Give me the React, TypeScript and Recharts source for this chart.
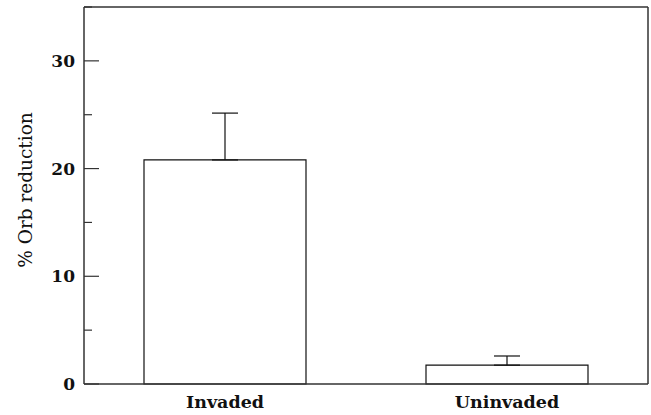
import React from 'react';
import { BarChart, Bar, XAxis, YAxis, ErrorBar } from 'recharts';

const categories = ['Invaded', 'Uninvaded'];
const means = [20.8, 1.75];
const upperErrors = [4.35, 0.85];
const yTicks = [0, 5, 10, 15, 20, 25, 30, 35];

const data = categories.map((name, i) => ({
  name,
  value: means[i],
  err: [0, upperErrors[i]],
}));

const FONT = '"DejaVu Serif", serif';
const AXIS = '#333';

const YTick = (props: any) => {
  const { y, payload } = props;
  const v = payload.value as number;
  const major = v % 10 === 0;
  return (
    <g>
      <line x1={84} x2={84 + (major ? 15 : 8)} y1={y} y2={y} stroke={AXIS} strokeWidth={1.2} />
      {major && v < 35 && (
        <text x={75} y={y} dy="0.36em" textAnchor="end" fontFamily={FONT} fontSize={17} fontWeight="bold" fill="#111">
          {v}
        </text>
      )}
    </g>
  );
};

export default function App() {
  return (
    <div style={{ position: 'absolute', left: 0, top: 0 }}>
      <BarChart width={651} height={415} data={data} margin={{ top: 6, right: 2, bottom: 0, left: 0 }} barSize={162}>
        <XAxis
          dataKey="name"
          height={31}
          tickLine={false}
          tickSize={0}
          tickMargin={12}
          axisLine={{ stroke: AXIS, strokeWidth: 1.5 }}
          tick={{ fontFamily: FONT, fontSize: 17.5, fontWeight: 'bold', fill: '#111' }}
        />
        <XAxis xAxisId="top" dataKey="name" orientation="top" height={1} tick={false} tickLine={false} axisLine={{ stroke: AXIS, strokeWidth: 1.5 }} />
        <YAxis
          width={84}
          domain={[0, 35]}
          ticks={yTicks}
          interval={0}
          tickLine={false}
          axisLine={{ stroke: AXIS, strokeWidth: 1.5 }}
          tick={<YTick />}
          label={{
            content: () => (
              <text transform="rotate(-90, 32, 190)" x={32} y={190} textAnchor="middle" fontFamily={FONT} fontSize={18.5} fill="#111">
                % Orb reduction
              </text>
            ),
          }}
        />
        <YAxis yAxisId="right" orientation="right" width={1} domain={[0, 35]} tick={false} tickLine={false} axisLine={{ stroke: AXIS, strokeWidth: 1.5 }} />
        <Bar dataKey="value" fill="#fff" stroke="#111" strokeWidth={1.2} isAnimationActive={false}>
          <ErrorBar dataKey="err" direction="y" width={13} stroke="#111" strokeWidth={1.2} />
        </Bar>
      </BarChart>
    </div>
  );
}
